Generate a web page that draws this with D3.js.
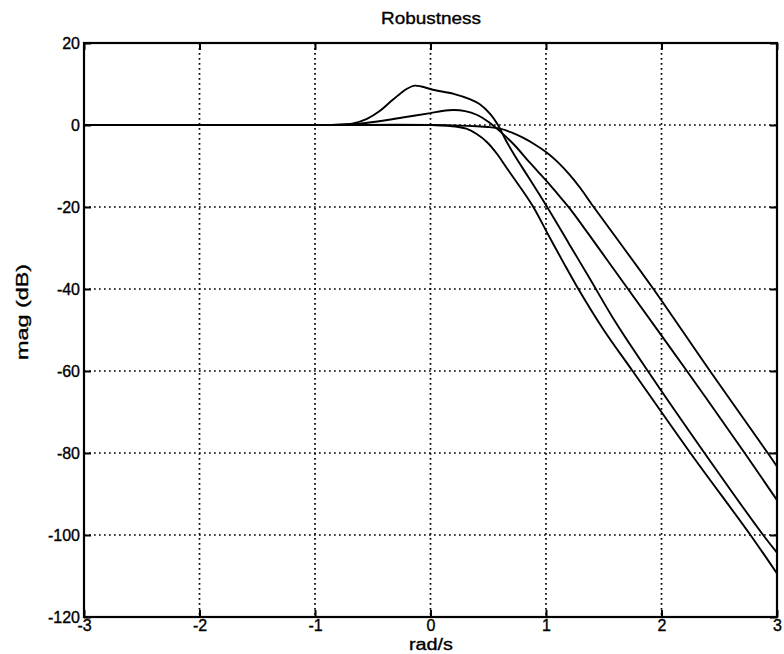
<!DOCTYPE html>
<html>
<head>
<meta charset="utf-8">
<script src="https://cdn.jsdelivr.net/npm/d3@7"></script>
<style>
  body { margin: 0; background: #fff; }
  svg { display: block; }
  text { font-family: "Liberation Sans", Arial, Helvetica, sans-serif; fill: #000; stroke: #000; stroke-width: 0.35px; }
</style>
</head>
<body>
<svg id="chart" width="784" height="654"></svg>
<script>
// Axis ticks (x is log10 of frequency in rad/s, y is magnitude in dB)
const xTicks = [-3, -2, -1, 0, 1, 2, 3];
const yTicks = [20, 0, -20, -40, -60, -80, -100, -120];

// Resonant response with the large peak
const wPeak   = [-3, -2, -1.2, -1, -0.8, -0.67, -0.55, -0.44, -0.35, -0.26, -0.2, -0.14, -0.08, 0.02, 0.2, 0.34, 0.43, 0.52, 0.58, 0.65, 0.73, 0.85, 1.01, 1.2, 1.38, 1.6, 1.87, 2.36, 2.88, 3];
const magPeak = [0, 0, 0, 0, 0.05, 0.4, 1.5, 3.4, 5.6, 7.7, 8.9, 9.6, 9.4, 8.6, 7.6, 6.3, 5.0, 2.6, 0.2, -3.6, -7.5, -12.8, -20, -29, -37.5, -48, -59.5, -79.5, -100, -104.3];

// Response with the small bump
const wBump   = [-3, -2, -1.2, -1, -0.8, -0.6, -0.4, -0.2, 0, 0.1, 0.2, 0.3, 0.4, 0.5, 0.6, 0.73, 0.86, 1.0, 1.1, 1.21, 1.45, 1.71, 2.22, 2.72, 3];
const magBump = [0, 0, 0, 0, 0.05, 0.4, 1.1, 2.0, 2.9, 3.4, 3.65, 3.4, 2.5, 0.8, -1.5, -5, -9.2, -13.5, -16.8, -20.5, -29.8, -40, -60, -80, -91.5];

// Flat response with the gentlest roll-off
const wGentle   = [-3, -2, -1, 0, 0.2, 0.4, 0.5, 0.6, 0.7, 0.8, 0.9, 1.0, 1.1, 1.2, 1.3, 1.4, 1.6, 1.93, 2.42, 2.92, 3];
const magGentle = [0, 0, 0, 0, -0.1, -0.3, -0.5, -0.9, -1.8, -3.1, -4.7, -6.6, -9, -12, -15.5, -19.5, -27.2, -40, -60, -80, -83.3];

// Flat response that rolls off first
const wEarly   = [-3, -2, -1, 0, 0.15, 0.31, 0.4, 0.49, 0.58, 0.66, 0.76, 0.89, 1.02, 1.15, 1.27, 1.5, 1.75, 2.25, 2.77, 3];
const magEarly = [0, 0, 0, 0, -0.2, -0.9, -2.2, -4.2, -7.2, -10.5, -14.5, -20, -26.8, -33.5, -39.5, -50, -60, -80, -100, -109.4];

const series = [
  { w: wPeak, mag: magPeak },
  { w: wBump, mag: magBump },
  { w: wGentle, mag: magGentle },
  { w: wEarly, mag: magEarly }
];

const margin = { left: 84, right: 7, top: 43, bottom: 37 };
const W = 784, H = 654;
const svg = d3.select("#chart");

const x = d3.scaleLinear().domain([-3, 3]).range([margin.left, W - margin.right]);
const y = d3.scaleLinear().domain([-120, 20]).range([H - margin.bottom, margin.top]);

const x0 = x.range()[0], x1 = x.range()[1];
const y0 = y.range()[0], y1 = y.range()[1];

// Dotted grid
const grid = svg.append("g").attr("stroke", "#000").attr("stroke-width", 1.7)
  .attr("stroke-dasharray", "1.7,3.3");
grid.selectAll("line.gx").data(xTicks.slice(1, -1)).join("line")
  .attr("x1", d => x(d)).attr("x2", d => x(d)).attr("y1", y1).attr("y2", y0);
grid.selectAll("line.gy").data(yTicks.slice(1, -1)).join("line")
  .attr("y1", d => y(d)).attr("y2", d => y(d)).attr("x1", x0).attr("x2", x1);

// Curves
const line = d3.line().x(d => x(d[0])).y(d => y(d[1])).curve(d3.curveCatmullRom.alpha(0.5));
svg.append("g").selectAll("path").data(series).join("path")
  .attr("d", s => line(d3.zip(s.w, s.mag)))
  .attr("fill", "none").attr("stroke", "#000").attr("stroke-width", 1.9)
  .attr("stroke-linejoin", "round");

// Axes with inward ticks on all four sides
const tickLen = 7;
const fmt = d => String(d); // plain hyphen-minus labels
const axB = svg.append("g").attr("transform", `translate(0,${y0})`)
  .call(d3.axisBottom(x).tickValues(xTicks).tickSize(-tickLen).tickPadding(3).tickFormat(fmt));
const axT = svg.append("g").attr("transform", `translate(0,${y1})`)
  .call(d3.axisTop(x).tickValues(xTicks).tickSize(-tickLen).tickFormat(""));
const axL = svg.append("g").attr("transform", `translate(${x0},0)`)
  .call(d3.axisLeft(y).tickValues(yTicks).tickSize(-tickLen).tickPadding(4).tickFormat(fmt));
const axR = svg.append("g").attr("transform", `translate(${x1},0)`)
  .call(d3.axisRight(y).tickValues(yTicks).tickSize(-tickLen).tickFormat(""));

[axB, axT, axL, axR].forEach(a => {
  a.select(".domain").remove();
  a.selectAll(".tick line").attr("stroke", "#000").attr("stroke-width", 2);
  a.selectAll("text").attr("font-size", 16).attr("font-family", null).attr("fill", "#000");
});

// Frame
svg.append("rect").attr("x", x0).attr("y", y1).attr("width", x1 - x0).attr("height", y0 - y1)
  .attr("fill", "none").attr("stroke", "#000").attr("stroke-width", 2.2);

// Labels
svg.append("text").attr("x", 431).attr("y", 24).attr("text-anchor", "middle")
  .attr("font-size", 17).attr("textLength", 100).attr("lengthAdjust", "spacingAndGlyphs")
  .text("Robustness");
svg.append("text").attr("x", 431).attr("y", 650).attr("text-anchor", "middle")
  .attr("font-size", 16).attr("textLength", 44).attr("lengthAdjust", "spacingAndGlyphs")
  .text("rad/s");
svg.append("text").attr("transform", `translate(28,312) rotate(-90)`)
  .attr("text-anchor", "middle").attr("font-size", 17)
  .attr("textLength", 96).attr("lengthAdjust", "spacingAndGlyphs")
  .text("mag (dB)");
</script>
</body>
</html>
